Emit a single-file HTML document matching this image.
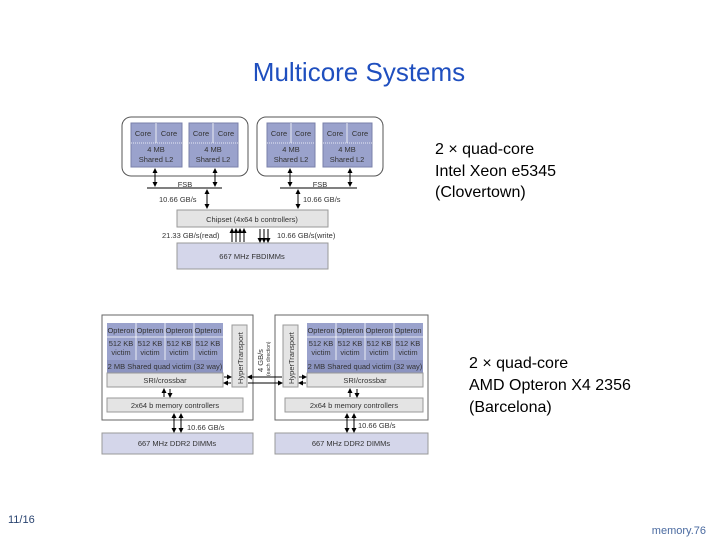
<!DOCTYPE html>
<html><head><meta charset="utf-8"><style>
html,body{margin:0;padding:0;background:#fff;}
svg{display:block;}
text{font-family:"Liberation Sans",Arial,sans-serif;}
.s{font-size:7.5px;fill:#333;}
</style></head><body>
<svg width="720" height="540" viewBox="0 0 720 540" xmlns="http://www.w3.org/2000/svg">
<defs>
<marker id="a" markerWidth="5" markerHeight="5" refX="4" refY="2.5" orient="auto"><path d="M0,0L5,2.5L0,5z" fill="#000"/></marker>
<marker id="b" markerWidth="5" markerHeight="5" refX="1" refY="2.5" orient="auto"><path d="M5,0L0,2.5L5,5z" fill="#000"/></marker>
</defs>
<text x="359" y="81" text-anchor="middle" font-size="26" fill="#1f4fbf">Multicore Systems</text>

<!-- Top diagram -->
<g stroke="#555" stroke-width="1">
<rect x="122" y="117" width="126" height="59" rx="9" fill="#fff"/>
<rect x="257" y="117" width="126" height="59" rx="9" fill="#fff"/>
</g>
<g fill="#9aa2cc" stroke="#7a80aa">
<rect x="131" y="123" width="51" height="44"/>
<rect x="189" y="123" width="49" height="44"/>
<rect x="267" y="123" width="48" height="44"/>
<rect x="323" y="123" width="49" height="44"/>
</g>
<rect x="177" y="210" width="151" height="17" fill="#e4e4e4" stroke="#999"/>
<rect x="177" y="243" width="151" height="26" fill="#d4d6ea" stroke="#999"/>
<g stroke="#fff" stroke-width="0.8" stroke-dasharray="1,1">
<line x1="131" y1="143" x2="182" y2="143"/><line x1="189" y1="143" x2="238" y2="143"/>
<line x1="267" y1="143" x2="315" y2="143"/><line x1="323" y1="143" x2="372" y2="143"/>
</g>
<g stroke="#fff" stroke-width="0.8">
<line x1="156" y1="123" x2="156" y2="143"/><line x1="213" y1="123" x2="213" y2="143"/>
<line x1="291" y1="123" x2="291" y2="143"/><line x1="347" y1="123" x2="347" y2="143"/>
</g>
<g class="s" text-anchor="middle">
<text x="143" y="136">Core</text><text x="169" y="136">Core</text>
<text x="201" y="136">Core</text><text x="226" y="136">Core</text>
<text x="279" y="136">Core</text><text x="303" y="136">Core</text>
<text x="335" y="136">Core</text><text x="360" y="136">Core</text>
<text x="156" y="152">4 MB</text><text x="156" y="162">Shared L2</text>
<text x="213" y="152">4 MB</text><text x="213" y="162">Shared L2</text>
<text x="291" y="152">4 MB</text><text x="291" y="162">Shared L2</text>
<text x="347" y="152">4 MB</text><text x="347" y="162">Shared L2</text>
<text x="185" y="187">FSB</text><text x="320" y="187">FSB</text>
<text x="252" y="222">Chipset (4x64 b controllers)</text>
<text x="252" y="259">667 MHz FBDIMMs</text>
</g>
<g stroke="#000" stroke-width="1">
<line x1="147" y1="188" x2="222" y2="188"/><line x1="280" y1="188" x2="357" y2="188"/>
</g>
<g stroke="#000" stroke-width="1" marker-start="url(#b)" marker-end="url(#a)">
<line x1="155" y1="169" x2="155" y2="186"/><line x1="215" y1="169" x2="215" y2="186"/>
<line x1="290" y1="169" x2="290" y2="186"/><line x1="350" y1="169" x2="350" y2="186"/>
<line x1="207" y1="190" x2="207" y2="208"/><line x1="298" y1="190" x2="298" y2="208"/>
</g>
<g stroke="#000" stroke-width="1">
<line x1="232" y1="229" x2="232" y2="242" marker-start="url(#b)"/>
<line x1="236" y1="229" x2="236" y2="242" marker-start="url(#b)"/>
<line x1="240" y1="229" x2="240" y2="242" marker-start="url(#b)"/>
<line x1="244" y1="229" x2="244" y2="242" marker-start="url(#b)"/>
<line x1="260" y1="229" x2="260" y2="242" marker-end="url(#a)"/>
<line x1="264" y1="229" x2="264" y2="242" marker-end="url(#a)"/>
<line x1="268" y1="229" x2="268" y2="242" marker-end="url(#a)"/>
</g>
<g class="s">
<text x="159" y="202">10.66 GB/s</text><text x="303" y="202">10.66 GB/s</text>
<text x="162" y="238">21.33 GB/s(read)</text><text x="277" y="238">10.66 GB/s(write)</text>
</g>

<!-- Bottom diagram -->
<g stroke="#666" fill="#fff">
<rect x="102" y="315" width="151" height="105"/>
<rect x="275" y="315" width="153" height="105"/>
</g>
<g fill="#9aa2cc">
<rect x="107" y="323" width="116" height="50"/>
<rect x="307" y="323" width="116" height="50"/>
</g>
<g fill="#8c94c0"><rect x="107" y="360" width="116" height="13"/><rect x="307" y="360" width="116" height="13"/></g>
<g stroke="#fff" stroke-width="0.8">
<line x1="107" y1="337" x2="223" y2="337"/><line x1="307" y1="337" x2="423" y2="337"/>
<line x1="136" y1="323" x2="136" y2="360"/><line x1="165" y1="323" x2="165" y2="360"/><line x1="194" y1="323" x2="194" y2="360"/>
<line x1="336" y1="323" x2="336" y2="360"/><line x1="365" y1="323" x2="365" y2="360"/><line x1="394" y1="323" x2="394" y2="360"/>
</g>
<g fill="#e4e4e4" stroke="#999">
<rect x="107" y="373" width="116" height="14"/><rect x="307" y="373" width="116" height="14"/>
<rect x="232" y="325" width="15" height="62"/><rect x="283" y="325" width="15" height="62"/>
<rect x="107" y="398" width="136" height="14"/><rect x="285" y="398" width="138" height="14"/>
</g>
<g fill="#d4d6ea" stroke="#999">
<rect x="102" y="433" width="151" height="21"/><rect x="275" y="433" width="153" height="21"/>
</g>
<g class="s" text-anchor="middle" font-size="7">
<text x="121" y="333">Opteron</text><text x="150" y="333">Opteron</text><text x="179" y="333">Opteron</text><text x="208" y="333">Opteron</text>
<text x="321" y="333">Opteron</text><text x="350" y="333">Opteron</text><text x="379" y="333">Opteron</text><text x="408" y="333">Opteron</text>
<text x="121" y="346">512 KB</text><text x="150" y="346">512 KB</text><text x="179" y="346">512 KB</text><text x="208" y="346">512 KB</text>
<text x="321" y="346">512 KB</text><text x="350" y="346">512 KB</text><text x="379" y="346">512 KB</text><text x="408" y="346">512 KB</text>
<text x="121" y="355">victim</text><text x="150" y="355">victim</text><text x="179" y="355">victim</text><text x="208" y="355">victim</text>
<text x="321" y="355">victim</text><text x="350" y="355">victim</text><text x="379" y="355">victim</text><text x="408" y="355">victim</text>
<text x="165" y="369">2 MB Shared quad victim (32 way)</text><text x="365" y="369">2 MB Shared quad victim (32 way)</text>
<text x="165" y="383">SRI/crossbar</text><text x="365" y="383">SRI/crossbar</text>
<text x="175" y="408">2x64 b memory controllers</text><text x="354" y="408">2x64 b memory controllers</text>
<text x="177" y="446">667 MHz DDR2 DIMMs</text><text x="351" y="446">667 MHz DDR2 DIMMs</text>
<text x="187" y="430" text-anchor="start">10.66 GB/s</text><text x="358" y="428" text-anchor="start">10.66 GB/s</text>
</g>
<g class="s" font-size="7">
<text transform="translate(243,384) rotate(-90)">HyperTransport</text>
<text transform="translate(294,384) rotate(-90)">HyperTransport</text>
<text transform="translate(263,372) rotate(-90)">4 GB/s</text>
<text transform="translate(270,376) rotate(-90)" font-size="5">(each direction)</text>
</g>
<g stroke="#000" stroke-width="1">
<line x1="224" y1="377" x2="231" y2="377" marker-end="url(#a)"/>
<line x1="224" y1="383" x2="231" y2="383" marker-start="url(#b)"/>
<line x1="248" y1="377" x2="282" y2="377" marker-start="url(#b)"/>
<line x1="248" y1="383" x2="282" y2="383" marker-end="url(#a)"/>
<line x1="299" y1="377" x2="306" y2="377" marker-end="url(#a)"/>
<line x1="299" y1="383" x2="306" y2="383" marker-start="url(#b)"/>
<line x1="164" y1="389" x2="164" y2="397" marker-start="url(#b)"/>
<line x1="170" y1="389" x2="170" y2="397" marker-end="url(#a)"/>
<line x1="350" y1="389" x2="350" y2="397" marker-start="url(#b)"/>
<line x1="357" y1="389" x2="357" y2="397" marker-end="url(#a)"/>
<line x1="174" y1="414" x2="174" y2="432" marker-start="url(#b)" marker-end="url(#a)"/>
<line x1="181" y1="414" x2="181" y2="432" marker-start="url(#b)" marker-end="url(#a)"/>
<line x1="347" y1="414" x2="347" y2="432" marker-start="url(#b)" marker-end="url(#a)"/>
<line x1="354" y1="414" x2="354" y2="432" marker-start="url(#b)" marker-end="url(#a)"/>
</g>

<g font-size="16" fill="#000">
<text x="435" y="154">2 × quad-core</text>
<text x="435" y="176">Intel Xeon e5345</text>
<text x="435" y="197">(Clovertown)</text>
<text x="469" y="368">2 × quad-core</text>
<text x="469" y="390">AMD Opteron X4 2356</text>
<text x="469" y="412">(Barcelona)</text>
</g>
<text x="8" y="523" font-size="11" fill="#2a4470">11/16</text>
<text x="706" y="534" font-size="11" fill="#4a6aa0" text-anchor="end">memory.76</text>
</svg>
</body></html>
